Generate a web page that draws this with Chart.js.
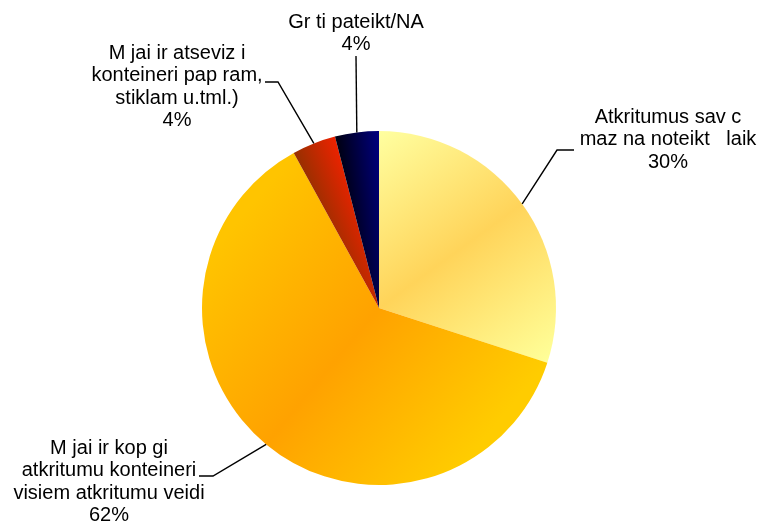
<!DOCTYPE html>
<html lang="lv">
  <head>
    <meta charset="UTF-8" />
    <script src="https://cdn.jsdelivr.net/npm/chart.js"></script>
    <style>
      html, body { margin: 0; padding: 0; background: #fff; }
      #mainChart { width: 759px; height: 527px; }
    </style>
  </head>
  <body>
    <div id="mainChart">
      <canvas id="myChart"></canvas>
    </div>

    <script>
      // data
      const categories = [
        "Atkritumus sav c\nmaz na noteikt   laik",
        "M jai ir kop gi\natkritumu konteineri\nvisiem atkritumu veidi",
        "M jai ir atseviz i\nkonteineri pap ram,\nstiklam u.tml.)",
        "Gr ti pateikt/NA",
      ];
      const shares = [30, 62, 4, 4];
      const percentLabels = ["30%", "62%", "4%", "4%"];

      // gradient stops per slice, from start edge to end edge
      const sliceColors = [
        ["#FFFFA0", "#FFD45A", "#FFFF99"],
        ["#FFCC00", "#FFA200", "#FFC400"],
        ["#963000", "#EE2200"],
        ["#000010", "#000080"],
      ];

      // where the label text and leader lines go
      const labelLayout = [
        { x: 668, y: 117, elbow: [557, 150], end: [574, 150] },
        { x: 109, y: 448, elbow: [213, 476], end: [199, 476] },
        { x: 177, y: 53, elbow: [278, 82], end: [265, 82] },
        { x: 356, y: 22, elbow: [356, 56], end: null },
      ];

      const total = shares.reduce((a, b) => a + b, 0);

      function sliceFill(context) {
        const chart = context.chart;
        const i = context.dataIndex;
        const area = chart.chartArea;
        const stops = sliceColors[i];
        if (!area) return stops[0];
        const cx = (area.left + area.right) / 2;
        const cy = (area.top + area.bottom) / 2;
        const r = Math.min(area.right - area.left, area.bottom - area.top) / 2;
        let before = 0;
        for (let k = 0; k < i; k++) before += shares[k];
        const a0 = -Math.PI / 2 + (2 * Math.PI * before) / total;
        const a1 = -Math.PI / 2 + (2 * Math.PI * (before + shares[i])) / total;
        const g = chart.ctx.createLinearGradient(
          cx + r * Math.cos(a0), cy + r * Math.sin(a0),
          cx + r * Math.cos(a1), cy + r * Math.sin(a1)
        );
        stops.forEach((c, n) => g.addColorStop(n / (stops.length - 1), c));
        return g;
      }

      const leaderLabels = {
        id: "leaderLabels",
        afterDatasetsDraw(chart) {
          const ctx = chart.ctx;
          const meta = chart.getDatasetMeta(0);
          ctx.save();
          meta.data.forEach((arc, i) => {
            const p = arc.getProps(["x", "y", "startAngle", "endAngle", "outerRadius"], true);
            const mid = (p.startAngle + p.endAngle) / 2;
            const ax = p.x + Math.cos(mid) * p.outerRadius;
            const ay = p.y + Math.sin(mid) * p.outerRadius;
            const lay = labelLayout[i];

            ctx.strokeStyle = "#000";
            ctx.lineWidth = 1.4;
            ctx.beginPath();
            ctx.moveTo(ax, ay);
            ctx.lineTo(lay.elbow[0], lay.elbow[1]);
            if (lay.end) ctx.lineTo(lay.end[0], lay.end[1]);
            ctx.stroke();

            const lines = categories[i].split("\n").concat(percentLabels[i]);
            ctx.fillStyle = "#000";
            ctx.font = "20px 'Liberation Sans', Arial, sans-serif";
            ctx.textAlign = "center";
            ctx.textBaseline = "middle";
            lines.forEach((t, n) => ctx.fillText(t, lay.x, lay.y + n * 22.5));
          });
          ctx.restore();
        },
      };

      const myChart = new Chart(document.getElementById("myChart"), {
        type: "pie",
        data: {
          labels: categories,
          datasets: [
            {
              data: shares,
              backgroundColor: sliceFill,
              borderWidth: 0,
            },
          ],
        },
        options: {
          responsive: true,
          maintainAspectRatio: false,
          animation: false,
          layout: { padding: { top: 131, bottom: 42, left: 0, right: 1 } },
          plugins: {
            legend: { display: false },
            tooltip: { enabled: false },
          },
        },
        plugins: [leaderLabels],
      });
    </script>
  </body>
</html>
